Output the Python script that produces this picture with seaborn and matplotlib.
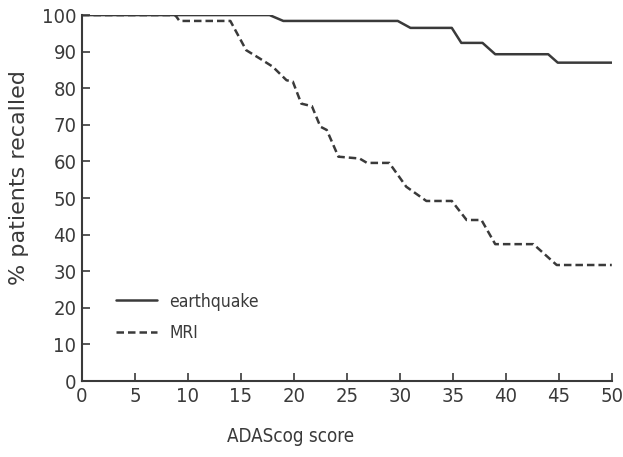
import matplotlib
matplotlib.use('Agg')
import matplotlib.pyplot as plt
import pandas as pd
import seaborn as sns

# data
eq_score = [0, 17.7, 19, 29.8, 31, 34.9, 35.8, 37.8, 39, 44, 44.9, 50]
eq_recalled = [100, 100, 98.4, 98.4, 96.5, 96.5, 92.4, 92.4, 89.3, 89.3, 87, 87]

mri_score = [0, 8.8, 9.2, 14, 15.5, 16.8, 18, 19.3, 19.9, 20.7, 21.7, 22.5, 23.1,
             24.2, 26.2, 26.9, 29, 30.6, 32.5, 34.9, 36.3, 37.7, 39, 42.6, 44.8, 50]
mri_recalled = [100, 100, 98.4, 98.4, 90.4, 88.1, 85.9, 82.2, 81.8, 75.8, 75.1, 69.5, 68.6,
                61.3, 60.8, 59.6, 59.6, 53.1, 49.2, 49.2, 44, 44, 37.4, 37.4, 31.7, 31.7]

df = pd.concat([
    pd.DataFrame({'score': eq_score, 'recalled': eq_recalled, 'scan': 'earthquake'}),
    pd.DataFrame({'score': mri_score, 'recalled': mri_recalled, 'scan': 'MRI'}),
])

sns.set_style('ticks')
plt.rcParams['font.family'] = ['DejaVu Sans']
plt.rcParams['font.stretch'] = 'condensed'
ink = '#3a3a3a'

fig = plt.figure(figsize=(6.23, 4.57), dpi=100)
ax = fig.add_axes([0.1316, 0.1663, 0.8504, 0.8007])

sns.lineplot(data=df, x='score', y='recalled', hue='scan', style='scan',
             palette={'earthquake': ink, 'MRI': ink},
             dashes={'earthquake': '', 'MRI': (3, 1.6)},
             linewidth=1.8, sort=False, ax=ax)

ax.set_xlim(0, 50)
ax.set_ylim(0, 100)
ax.set_xticks(range(0, 51, 5))
ax.set_yticks(range(0, 101, 10))
ax.tick_params(direction='in', length=6, width=1.2, colors=ink, labelsize=14.5, pad=4)
for s in ['left', 'bottom']:
    ax.spines[s].set_linewidth(1.5)
    ax.spines[s].set_color(ink)
sns.despine(ax=ax)
ax.set_xlabel('ADAScog score', fontsize=13.5, color=ink)
ax.set_ylabel('% patients recalled', fontsize=16, fontstretch='normal', color=ink)
ax.xaxis.set_label_coords(0.394, -0.125)
ax.yaxis.set_label_coords(-0.1, 0.555)

ax.legend(title=None, frameon=False, fontsize=12.5, loc='lower left',
          bbox_to_anchor=(0.035, 0.065), handlelength=2.35, handletextpad=0.7,
          labelspacing=0.75, labelcolor=ink)

fig.savefig('out.png', dpi=100)
